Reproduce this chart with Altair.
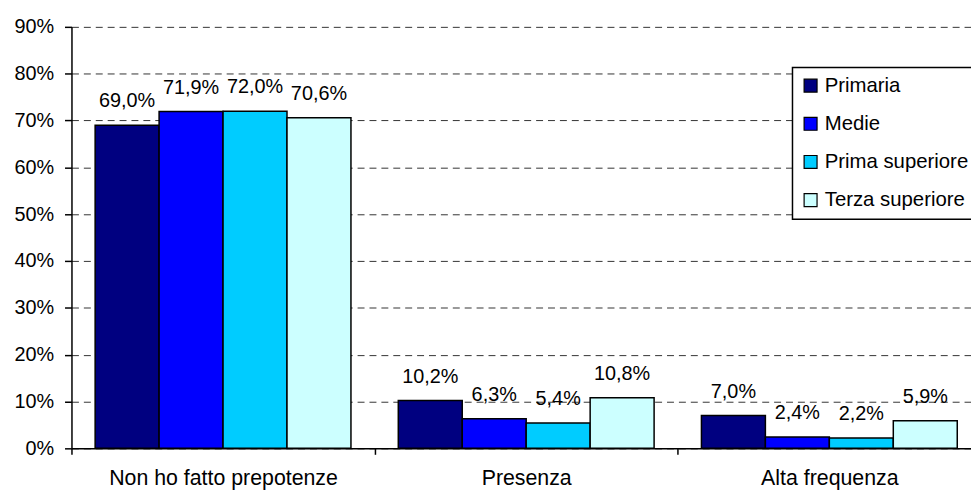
import altair as alt
import pandas as pd

categories = ["Non ho fatto prepotenze", "Presenza", "Alta frequenza"]
series = ["Primaria", "Medie", "Prima superiore", "Terza superiore"]
colors = ["#000080", "#0000FF", "#00CCFF", "#CCFFFF"]
values = {
    "Primaria": [69.0, 10.2, 7.0],
    "Medie": [71.9, 6.3, 2.4],
    "Prima superiore": [72.0, 5.4, 2.2],
    "Terza superiore": [70.6, 10.8, 5.9],
}
y_ticks = [0, 10, 20, 30, 40, 50, 60, 70, 80, 90]

rows = []
for s in series:
    for c, v in zip(categories, values[s]):
        rows.append({"cat": c, "series": s, "value": v})
df = pd.DataFrame(rows)

FONT = "Liberation Sans"

x_enc = alt.X(
    "cat:N",
    sort=categories,
    scale=alt.Scale(range=[0, 917], paddingInner=0, paddingOuter=0),
    axis=alt.Axis(
        title=None,
        labelAngle=0,
        tickBand="extent",
        tickSize=6,
        labelPadding=13,
        labelFontSize=21.5,
        labelFont=FONT,
        labelColor="black",
        labelLimit=0,
        domainColor="black",
        domainWidth=1.5,
        tickColor="black",
        tickWidth=1.5,
        grid=False,
    ),
)
xoff = alt.XOffset(
    "series:N", sort=series, scale=alt.Scale(paddingOuter=0.37, paddingInner=0)
)
y_enc = alt.Y(
    "value:Q",
    scale=alt.Scale(domain=[0, 90], nice=False),
    axis=alt.Axis(
        title=None,
        values=y_ticks,
        labelExpr="datum.value + '%'",
        tickSize=7,
        labelPadding=11,
        labelFontSize=20,
        labelFont=FONT,
        labelColor="black",
        domainColor="black",
        domainWidth=1.5,
        tickColor="black",
        tickWidth=1.5,
        grid=True,
        gridColor="#333333",
        gridDash=[7, 5],
        gridWidth=1,
    ),
)

base = alt.Chart(df)

bars = base.mark_bar(stroke="black", strokeWidth=1.5).encode(
    x=x_enc,
    xOffset=xoff,
    y=y_enc,
    color=alt.Color(
        "series:N",
        sort=series,
        scale=alt.Scale(domain=series, range=colors),
        legend=alt.Legend(
            title=None,
            orient="none",
            legendX=727,
            legendY=41,
            symbolType="square",
            symbolSize=170,
            symbolStrokeColor="black",
            symbolStrokeWidth=1.2,
            symbolOpacity=1,
            labelFontSize=20.5,
            labelFont=FONT,
            labelColor="black",
            labelLimit=0,
            labelOffset=4,
            padding=8,
            rowPadding=17.5,
            strokeColor="black",
            fillColor="white",
            cornerRadius=0,
        ),
    ),
)

labels = base.transform_calculate(
    label="replace(format(datum.value, '.1f'), '.', ',') + '%'"
).mark_text(
    dy=-18, baseline="alphabetic", fontSize=20, font=FONT, color="black"
).encode(
    x=alt.X("cat:N", sort=categories),
    xOffset=alt.XOffset("series:N", sort=series),
    y=alt.Y("value:Q"),
    text="label:N",
)

chart = (
    alt.layer(bars, labels)
    .properties(
        width=907,
        height=425,
        autosize=alt.AutoSizeParams(type="none"),
        padding={"left": 64, "top": 17, "right": 0, "bottom": 41},
    )
    .configure_view(stroke=None)
    .configure_legend(strokeWidth=1.5)
)

chart.save("out.html", embed_options={"renderer": "svg", "actions": False})
